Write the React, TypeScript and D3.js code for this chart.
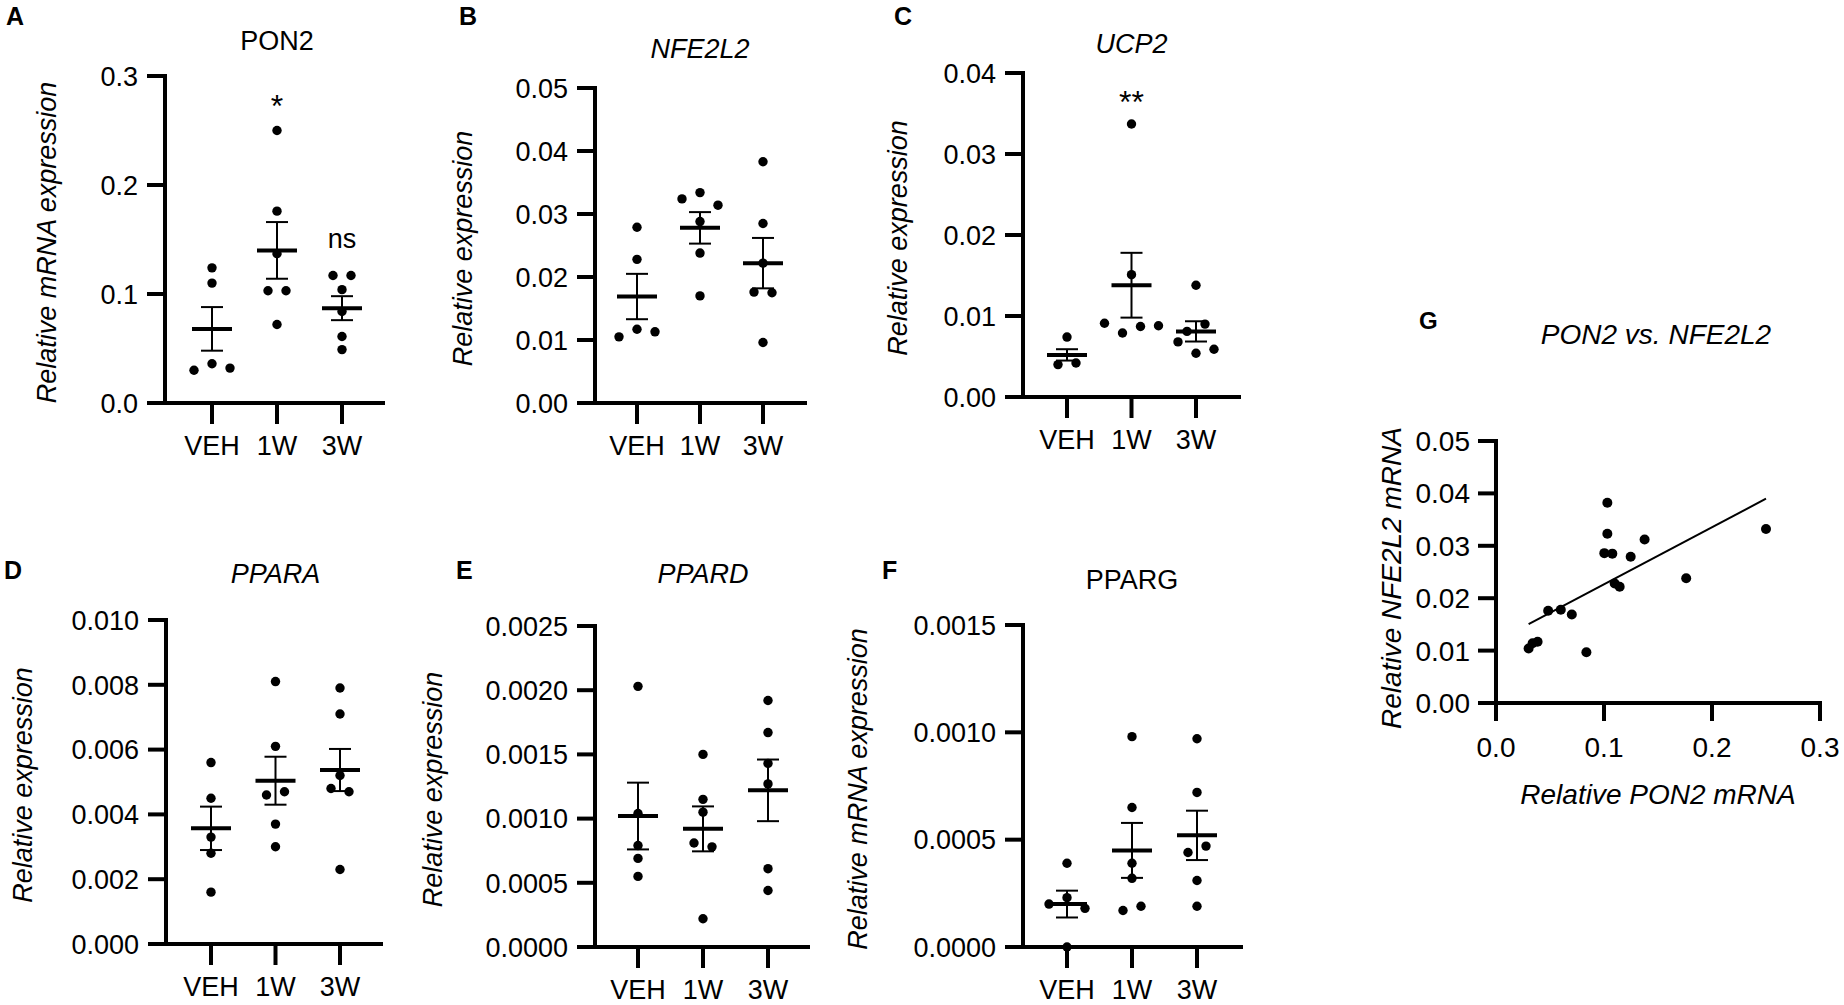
import React from "react";
import * as d3 from "d3";

const FONT = "'Liberation Sans', Arial, Helvetica, sans-serif";

const groups = ["VEH", "1W", "3W"];

// A - PON2
const ponVals = [
  [0.124, 0.11, 0.03, 0.036, 0.032],
  [0.25, 0.176, 0.137, 0.103, 0.103, 0.072],
  [0.117, 0.117, 0.104, 0.084, 0.061, 0.049],
];
const ponMean = [0.068, 0.14, 0.087];
const ponSem = [0.02, 0.026, 0.011];
const ponTicks = [0, 0.1, 0.2, 0.3];

// B - NFE2L2
const nfeVals = [
  [0.0279, 0.0228, 0.0105, 0.0117, 0.0113],
  [0.0324, 0.0334, 0.0314, 0.0288, 0.0238, 0.017],
  [0.0383, 0.0285, 0.0222, 0.0176, 0.0175, 0.0096],
];
const nfeMean = [0.0169, 0.0278, 0.0222];
const nfeSem = [0.0036, 0.0025, 0.004];
const nfeTicks = [0, 0.01, 0.02, 0.03, 0.04, 0.05];

// C - UCP2
const ucpVals = [
  [0.0074, 0.004, 0.0042],
  [0.0337, 0.0151, 0.0091, 0.0079, 0.0087, 0.0088],
  [0.0138, 0.0081, 0.009, 0.0068, 0.0054, 0.0059],
];
const ucpMean = [0.0052, 0.0138, 0.0081];
const ucpSem = [0.0007, 0.004, 0.00125];
const ucpTicks = [0, 0.01, 0.02, 0.03, 0.04];

// D - PPARA
const pparaVals = [
  [0.0056, 0.0045, 0.0033, 0.0028, 0.0016],
  [0.0081, 0.0061, 0.0046, 0.0047, 0.0037, 0.003],
  [0.0079, 0.0071, 0.0052, 0.0048, 0.0047, 0.0023],
];
const pparaMean = [0.00357, 0.00504, 0.00537];
const pparaSem = [0.00067, 0.00074, 0.00065];
const pparaTicks = [0, 0.002, 0.004, 0.006, 0.008, 0.01];

// E - PPARD
const ppardVals = [
  [0.00203, 0.00104, 0.00079, 0.00069, 0.00055],
  [0.0015, 0.00115, 0.00105, 0.00081, 0.00078, 0.00022],
  [0.00192, 0.00167, 0.00143, 0.00127, 0.00061, 0.00044],
];
const ppardMean = [0.00102, 0.00092, 0.00122];
const ppardSem = [0.00026, 0.000175, 0.00024];
const ppardTicks = [0, 0.0005, 0.001, 0.0015, 0.002, 0.0025];

// F - PPARG
const ppargVals = [
  [0.00039, 0.0002, 0.00023, 0.00018, 0.0],
  [0.00098, 0.00065, 0.00039, 0.00032, 0.00017, 0.00019],
  [0.00097, 0.00072, 0.00044, 0.00047, 0.00031, 0.00019],
];
const ppargMean = [0.0002, 0.00045, 0.00052];
const ppargSem = [0.0000625, 0.000128, 0.000115];
const ppargTicks = [0, 0.0005, 0.001, 0.0015];

// G - PON2 vs NFE2L2
const corrPon = [
  0.0302, 0.0339, 0.0385, 0.0483, 0.06, 0.0702, 0.0837, 0.1003, 0.1031,
  0.1031, 0.1077, 0.1099, 0.1145, 0.1247, 0.1376, 0.1761, 0.25,
];
const corrNfe = [
  0.0104, 0.0114, 0.0117, 0.0176, 0.0178, 0.0169, 0.0097, 0.0286, 0.0382,
  0.0323, 0.0285, 0.0228, 0.0222, 0.0279, 0.0312, 0.0238, 0.0332,
];
const corrXTicks = [0, 0.1, 0.2, 0.3];
const corrYTicks = [0, 0.01, 0.02, 0.03, 0.04, 0.05];

type Mark = { group: number; text: string; y: number; size: number };
type Panel = {
  letter: string;
  letterX: number;
  letterY: number;
  title: string;
  italic: boolean;
  titleY: number;
  yLabel: string;
  yLabelX: number;
  values: number[][];
  mean: number[];
  sem: number[];
  ticks: number[];
  fmt: string;
  left: number;
  top: number;
  bottom: number;
  catStart: number;
  catEnd: number;
  xEnd: number;
  marks?: Mark[];
};

const panels: Panel[] = [
  {
    letter: "A", letterX: 6, letterY: 25, title: "PON2", italic: false, titleY: 50,
    yLabel: "Relative mRNA expression", yLabelX: 47,
    values: ponVals, mean: ponMean, sem: ponSem, ticks: ponTicks, fmt: ".1f",
    left: 165, top: 76, bottom: 403, catStart: 47, catEnd: 177, xEnd: 385,
    marks: [
      { group: 1, text: "*", y: 117, size: 32 },
      { group: 2, text: "ns", y: 248, size: 27 },
    ],
  },
  {
    letter: "B", letterX: 459, letterY: 25, title: "NFE2L2", italic: true, titleY: 58,
    yLabel: "Relative expression", yLabelX: 463,
    values: nfeVals, mean: nfeMean, sem: nfeSem, ticks: nfeTicks, fmt: ".2f",
    left: 595, top: 88, bottom: 403, catStart: 42, catEnd: 168, xEnd: 807,
  },
  {
    letter: "C", letterX: 894, letterY: 25, title: "UCP2", italic: true, titleY: 53,
    yLabel: "Relative expression", yLabelX: 898,
    values: ucpVals, mean: ucpMean, sem: ucpSem, ticks: ucpTicks, fmt: ".2f",
    left: 1023, top: 73, bottom: 397, catStart: 44, catEnd: 173, xEnd: 1241,
    marks: [{ group: 1, text: "**", y: 113, size: 32 }],
  },
  {
    letter: "D", letterX: 4, letterY: 579, title: "PPARA", italic: true, titleY: 583,
    yLabel: "Relative expression", yLabelX: 23,
    values: pparaVals, mean: pparaMean, sem: pparaSem, ticks: pparaTicks, fmt: ".3f",
    left: 166, top: 620, bottom: 944, catStart: 45, catEnd: 174, xEnd: 383,
  },
  {
    letter: "E", letterX: 456, letterY: 579, title: "PPARD", italic: true, titleY: 583,
    yLabel: "Relative expression", yLabelX: 433,
    values: ppardVals, mean: ppardMean, sem: ppardSem, ticks: ppardTicks, fmt: ".4f",
    left: 595, top: 626, bottom: 947, catStart: 43, catEnd: 173, xEnd: 810,
  },
  {
    letter: "F", letterX: 882, letterY: 579, title: "PPARG", italic: false, titleY: 589,
    yLabel: "Relative mRNA expression", yLabelX: 858,
    values: ppargVals, mean: ppargMean, sem: ppargSem, ticks: ppargTicks, fmt: ".4f",
    left: 1023, top: 625, bottom: 947, catStart: 44, catEnd: 174, xEnd: 1243,
  },
];

/* spread overlapping dots sideways, like a column scatter */
function spread(vals: number[], y: (v: number) => number, gap = 10, step = 18) {
  const order = vals.map((_, i) => i).sort((a, b) => vals[b] - vals[a]);
  const off = vals.map(() => 0);
  let cluster = [order[0]];
  const flush = () => {
    const c = cluster.slice().sort((a, b) => a - b);
    c.forEach((idx, k) => (off[idx] = (k - (c.length - 1) / 2) * step));
  };
  for (let k = 1; k < order.length; k++) {
    if (Math.abs(y(vals[order[k]]) - y(vals[order[k - 1]])) < gap) cluster.push(order[k]);
    else {
      flush();
      cluster = [order[k]];
    }
  }
  flush();
  return off;
}

const DotPanel = ({ p }: { p: Panel }) => {
  const y = d3
    .scaleLinear()
    .domain([p.ticks[0], p.ticks[p.ticks.length - 1]])
    .range([p.bottom, p.top]);
  const x = d3
    .scalePoint<string>()
    .domain(groups)
    .range([p.left + p.catStart, p.left + p.catEnd]);
  const f = d3.format(p.fmt);
  const midX = x("1W") as number;

  return (
    <g>
      <text x={p.letterX} y={p.letterY} fontSize={25} fontWeight="bold">
        {p.letter}
      </text>
      <text x={midX} y={p.titleY} fontSize={27} textAnchor="middle" fontStyle={p.italic ? "italic" : "normal"}>
        {p.title}
      </text>
      <text
        transform={`translate(${p.yLabelX},${(p.top + p.bottom) / 2 + 3}) rotate(-90)`}
        fontSize={27}
        fontStyle="italic"
        textAnchor="middle"
        dominantBaseline="central"
      >
        {p.yLabel}
      </text>

      {/* y axis */}
      <line x1={p.left} x2={p.left} y1={p.top - 2} y2={p.bottom + 2} stroke="#000" strokeWidth={4} />
      {p.ticks.map((t) => (
        <g key={t}>
          <line x1={p.left - 18} x2={p.left} y1={y(t)} y2={y(t)} stroke="#000" strokeWidth={4} />
          <text x={p.left - 27} y={y(t)} dy="0.36em" fontSize={27} textAnchor="end">
            {f(t)}
          </text>
        </g>
      ))}

      {/* x axis */}
      <line x1={p.left} x2={p.xEnd} y1={p.bottom} y2={p.bottom} stroke="#000" strokeWidth={4} />
      {groups.map((g) => (
        <g key={g}>
          <line x1={x(g)} x2={x(g)} y1={p.bottom} y2={p.bottom + 21} stroke="#000" strokeWidth={4} />
          <text x={x(g)} y={p.bottom + 52} fontSize={27} textAnchor="middle">
            {g}
          </text>
        </g>
      ))}

      {/* dots, mean and SEM */}
      {p.values.map((vals, gi) => {
        const cx = x(groups[gi]) as number;
        const off = spread(vals, y);
        const m = p.mean[gi];
        const s = p.sem[gi];
        return (
          <g key={gi}>
            {vals.map((v, i) => (
              <circle key={i} cx={cx + off[i]} cy={y(v)} r={4.7} fill="#000" />
            ))}
            <line x1={cx - 20} x2={cx + 20} y1={y(m)} y2={y(m)} stroke="#000" strokeWidth={4} />
            <line x1={cx} x2={cx} y1={y(m + s)} y2={y(m - s)} stroke="#000" strokeWidth={2} />
            <line x1={cx - 11} x2={cx + 11} y1={y(m + s)} y2={y(m + s)} stroke="#000" strokeWidth={2} />
            <line x1={cx - 11} x2={cx + 11} y1={y(m - s)} y2={y(m - s)} stroke="#000" strokeWidth={2} />
          </g>
        );
      })}

      {(p.marks || []).map((mk, i) => (
        <text key={i} x={x(groups[mk.group])} y={mk.y} fontSize={mk.size} textAnchor="middle">
          {mk.text}
        </text>
      ))}
    </g>
  );
};

const Scatter = () => {
  const left = 1496;
  const top = 441;
  const bottom = 703;
  const x = d3.scaleLinear().domain([0, 0.3]).range([left, 1820]);
  const y = d3.scaleLinear().domain([0, 0.05]).range([bottom, top]);

  /* least squares fit */
  const mx = d3.mean(corrPon) as number;
  const my = d3.mean(corrNfe) as number;
  const sxy = d3.sum(corrPon, (v, i) => (v - mx) * (corrNfe[i] - my));
  const sxx = d3.sum(corrPon, (v) => (v - mx) ** 2);
  const slope = sxy / sxx;
  const x0 = d3.min(corrPon) as number;
  const x1 = d3.max(corrPon) as number;
  const fit = (v: number) => my + slope * (v - mx);

  return (
    <g>
      <text x={1419} y={329} fontSize={24} fontWeight="bold">
        G
      </text>
      <text x={1656} y={344} fontSize={28} fontStyle="italic" textAnchor="middle">
        PON2 vs. NFE2L2
      </text>
      <text
        transform={`translate(1391,${(top + bottom) / 2 + 6}) rotate(-90)`}
        fontSize={28}
        fontStyle="italic"
        textAnchor="middle"
        dominantBaseline="central"
      >
        Relative NFE2L2 mRNA
      </text>
      <text x={1658} y={804} fontSize={28} fontStyle="italic" textAnchor="middle">
        Relative PON2 mRNA
      </text>

      <line x1={left} x2={left} y1={top - 2} y2={bottom} stroke="#000" strokeWidth={4} />
      {corrYTicks.map((t) => (
        <g key={t}>
          <line x1={left - 18} x2={left} y1={y(t)} y2={y(t)} stroke="#000" strokeWidth={4} />
          <text x={left - 26} y={y(t)} dy="0.36em" fontSize={28} textAnchor="end">
            {d3.format(".2f")(t)}
          </text>
        </g>
      ))}
      <line x1={left} x2={x(0.3) + 2} y1={bottom} y2={bottom} stroke="#000" strokeWidth={4} />
      {corrXTicks.map((t) => (
        <g key={t}>
          <line x1={x(t)} x2={x(t)} y1={bottom} y2={bottom + 18} stroke="#000" strokeWidth={4} />
          <text x={x(t)} y={bottom + 54} fontSize={28} textAnchor="middle">
            {d3.format(".1f")(t)}
          </text>
        </g>
      ))}

      <line x1={x(x0)} x2={x(x1)} y1={y(fit(x0))} y2={y(fit(x1))} stroke="#000" strokeWidth={2} />
      {corrPon.map((v, i) => (
        <circle key={i} cx={x(v)} cy={y(corrNfe[i])} r={5} fill="#000" />
      ))}
    </g>
  );
};

const App = () => {
  return (
    <svg
      width={1844}
      height={1005}
      style={{ position: "absolute", left: 0, top: 0, background: "#fff" }}
      fontFamily={FONT}
    >
      {panels.map((p) => (
        <DotPanel key={p.letter} p={p} />
      ))}
      <Scatter />
    </svg>
  );
};

export default App;
